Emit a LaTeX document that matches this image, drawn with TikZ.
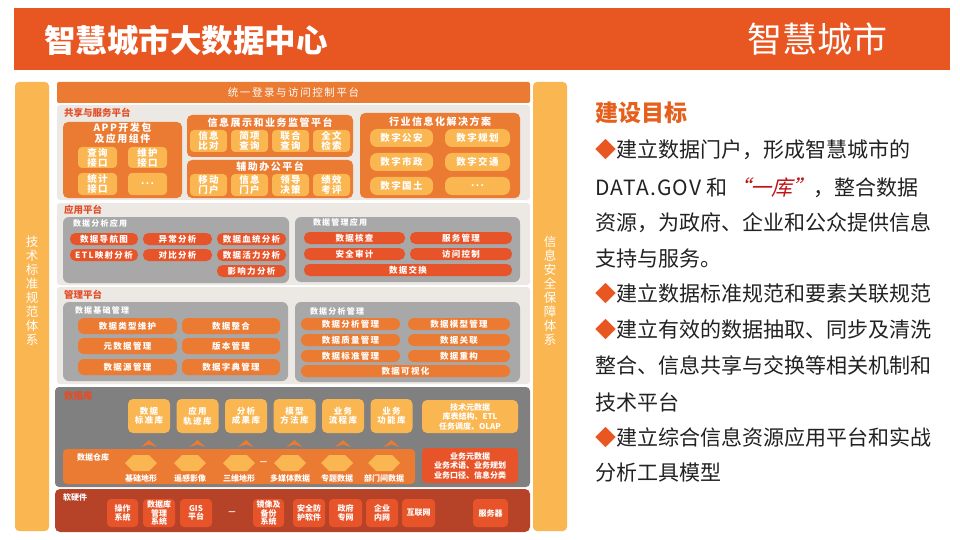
\documentclass[tikz,border=0pt]{standalone}
\usepackage{fontspec}
\setmainfont{Noto Sans CJK SC}
\newfontfamily\slfont[FakeSlant=0.25]{Noto Sans CJK SC}
\newfontfamily\spfont[LetterSpace=15]{Noto Sans CJK SC}
\newfontfamily\latfont[LetterSpace=6]{Noto Sans CJK SC}
\definecolor{hdr}{RGB}{232,86,34}
\definecolor{lor}{RGB}{250,182,80}
\definecolor{mor}{RGB}{235,122,50}
\definecolor{ror}{RGB}{232,84,42}
\definecolor{secc}{RGB}{236,233,229}
\definecolor{gboxc}{RGB}{168,168,168}
\definecolor{dgray}{RGB}{128,128,128}
\definecolor{dredc}{RGB}{182,66,40}
\definecolor{labc}{RGB}{226,78,40}
\definecolor{txtc}{RGB}{34,34,34}
\definecolor{qred}{RGB}{190,20,20}
\definecolor{goalc}{RGB}{229,96,28}
\newcommand\rb[7]{\node[#1, minimum width={(#5)-(#3)}, minimum height={(#6)-(#4)}] (#2) at ({((#3)+(#5))/2},{((#4)+(#6))/2}) {#7};}
\newcommand\dia{{\color{hdr}◆}}
\tikzset{
  zb/.style={inner sep=0pt, outer sep=0pt},
  sect/.style={zb, fill=secc, rounded corners=3pt},
  vbar/.style={zb, fill=lor, rounded corners=4pt},
  vtxt/.style={zb, text=white, align=center, font=\fontsize{12.5}{14}\selectfont},
  topbar/.style={zb, fill=mor, rounded corners=2pt, text=white, font=\spfont\fontsize{10.5}{11}\selectfont},
  slab/.style={zb, anchor=west, text=labc, font=\bfseries\fontsize{9.5}{10}\selectfont},
  obox/.style={zb, fill=mor, rounded corners=5pt},
  otitle/.style={zb, text=white, align=center, font=\spfont\bfseries\fontsize{10}{10.5}\selectfont},
  lbtn/.style={zb, fill=lor, rounded corners=4pt, text=white, align=center, font=\spfont\bfseries\fontsize{9.5}{10}\selectfont},
  lpill/.style={zb, fill=lor, rounded corners=7pt, text=white, align=center, font=\spfont\bfseries\fontsize{9.5}{10}\selectfont},
  gbx/.style={zb, fill=gboxc, rounded corners=6pt},
  gtitle/.style={zb, anchor=west, text=white, font=\spfont\bfseries\fontsize{8}{8}\selectfont},
  rpill/.style={zb, fill=ror, rounded corners=5.5pt, text=white, align=center, font=\spfont\bfseries\fontsize{8.5}{9}\selectfont},
  opill/.style={zb, fill=mor, rounded corners=6pt, text=white, align=center, font=\spfont\bfseries\fontsize{8.5}{9}\selectfont},
  dsec/.style={zb, fill=dgray, rounded corners=4pt},
  lbox/.style={zb, fill=lor, rounded corners=5pt, text=white, align=center, font=\spfont\bfseries\fontsize{8.5}{9.5}\selectfont},
  wband/.style={zb, fill=mor, rounded corners=4pt},
  wlab/.style={zb, anchor=west, text=white, font=\bfseries\fontsize{8}{8}\selectfont},
  hlab/.style={zb, text=white, font=\bfseries\fontsize{8}{8}\selectfont},
  rbox/.style={zb, fill=ror, rounded corners=4pt, text=white, align=center, font=\bfseries\fontsize{8}{9.5}\selectfont},
  hsec/.style={zb, fill=dredc, rounded corners=5pt},
  hbtn/.style={zb, fill=ror, rounded corners=4pt, text=white, align=center, font=\bfseries\fontsize{8}{8.5}\selectfont},
  rt/.style={zb, anchor=base west, text=txtc, font=\fontsize{21}{21}\selectfont},
}
\begin{document}
\begin{tikzpicture}[x=1pt,y=-1pt]
\useasboundingbox (0,0) rectangle (960,540);
\fill[white] (0,0) rectangle (960,540);
% header
\rb{zb, fill=hdr}{hdrbar}{14}{8}{950}{70}{}
\node[zb, anchor=west, text=white, font=\bfseries\fontsize{31.5}{31.5}\selectfont] (title) at (44,40) {智慧城市大数据中心};
\node[zb, text=white, font=\fontsize{35}{35}\selectfont] (brand) at (817,39) {智慧城市};
% side bars
\rb{vbar}{lbar}{15}{82}{49}{531}{}
\node[vtxt] (lbart) at (32,291) {技\\术\\标\\准\\规\\范\\体\\系};
\rb{vbar}{rbar}{533}{82}{567}{531}{}
\node[vtxt] (rbart) at (550,291) {信\\息\\安\\全\\保\\障\\体\\系};
% top bar
\rb{topbar}{sso}{57}{82}{530}{103}{统一登录与访问控制平台}
% section 1
\rb{sect}{s1}{57}{105}{530}{200}{}
\node[slab] (s1l) at (64,113) {共享与服务平台};
\rb{obox}{app}{63}{122}{182}{198}{}
\node[otitle] (appt) at (122.5,133) {APP开发包\\及应用组件};
\rb{lbtn}{q1}{78}{147}{117}{168}{查询\\接口}
\rb{lbtn}{q2}{128}{147}{167}{168}{维护\\接口}
\rb{lbtn}{q3}{78}{173}{117}{195}{统计\\接口}
\rb{lbtn}{q4}{128}{173}{167}{195}{...}
\rb{obox}{info}{187}{115}{353}{157}{}
\node[otitle] (infot) at (270,123) {信息展示和业务监管平台};
\rb{lbtn}{i1}{190}{130}{227}{152}{信息\\比对}
\rb{lbtn}{i2}{231}{130}{268}{152}{简项\\查询}
\rb{lbtn}{i3}{272}{130}{309}{152}{联合\\查询}
\rb{lbtn}{i4}{313}{130}{350}{152}{全文\\检索}
\rb{obox}{aux}{187}{160}{353}{198}{}
\node[otitle] (auxt) at (270,166.5) {辅助办公平台};
\rb{lbtn}{a1}{190}{174}{227}{196}{移动\\门户}
\rb{lbtn}{a2}{231}{174}{268}{196}{信息\\门户}
\rb{lbtn}{a3}{272}{174}{309}{196}{领导\\决策}
\rb{lbtn}{a4}{313}{174}{350}{196}{绩效\\考评}
\rb{obox}{ind}{360}{113}{520}{198}{}
\node[otitle] (indt) at (440,122) {行业信息化解决方案};
\rb{lpill}{d1}{370}{129}{433}{147}{数字公安}
\rb{lpill}{d2}{445}{129}{510}{147}{数字规划}
\rb{lpill}{d3}{370}{153}{433}{171}{数字市政}
\rb{lpill}{d4}{445}{153}{510}{171}{数字交通}
\rb{lpill}{d5}{370}{177}{433}{195}{数字国土}
\rb{lpill}{d6}{445}{177}{510}{195}{...}
% section 2
\rb{sect}{s2}{57}{203}{530}{285}{}
\node[slab] (s2l) at (64,210) {应用平台};
\rb{gbx}{daa}{63}{217}{289}{283}{}
\node[gtitle] (daat) at (73,223) {数据分析应用};
\rb{rpill}{p1}{70}{233}{138}{245}{数据导航图}
\rb{rpill}{p2}{143}{233}{212}{245}{异常分析}
\rb{rpill}{p3}{217}{233}{286}{245}{数据血统分析}
\rb{rpill}{p4}{70}{249}{138}{261}{ETL映射分析}
\rb{rpill}{p5}{143}{249}{212}{261}{对比分析}
\rb{rpill}{p6}{217}{249}{286}{261}{数据活力分析}
\rb{rpill}{p7}{217}{265}{286}{277}{影响力分析}
\rb{gbx}{dma}{295}{217}{520}{282}{}
\node[gtitle] (dmat) at (313,222) {数据管理应用};
\rb{rpill}{m1}{304}{232}{405}{244}{数据核查}
\rb{rpill}{m2}{410}{232}{512}{244}{服务管理}
\rb{rpill}{m3}{304}{248}{405}{260}{安全审计}
\rb{rpill}{m4}{410}{248}{512}{260}{访问控制}
\rb{rpill}{m5}{304}{264}{512}{276}{数据交换}
% section 3
\rb{sect}{s3}{57}{287}{530}{384}{}
\node[slab] (s3l) at (64,295) {管理平台};
\rb{gbx}{dbm}{63}{302}{288}{381}{}
\node[gtitle] (dbmt) at (75,310) {数据基础管理};
\rb{opill}{b1}{78}{318}{177}{334}{数据类型维护}
\rb{opill}{b2}{182}{318}{280}{334}{数据整合}
\rb{opill}{b3}{78}{338}{177}{354}{元数据管理}
\rb{opill}{b4}{182}{338}{280}{354}{版本管理}
\rb{opill}{b5}{78}{359}{177}{375}{数据源管理}
\rb{opill}{b6}{182}{359}{280}{375}{数据字典管理}
\rb{gbx}{dam}{295}{302}{520}{382}{}
\node[gtitle] (damt) at (310,311) {数据分析管理};
\rb{opill}{c1}{301}{318}{400}{330}{数据分析管理}
\rb{opill}{c2}{408}{318}{510}{330}{数据模型管理}
\rb{opill}{c3}{301}{334}{400}{346}{数据质量管理}
\rb{opill}{c4}{408}{334}{510}{346}{数据关联}
\rb{opill}{c5}{301}{350}{400}{362}{数据标准管理}
\rb{opill}{c6}{408}{350}{510}{362}{数据重构}
\rb{opill}{c7}{301}{365}{510}{377}{数据可视化}
% section 4
\rb{dsec}{s4}{55}{387}{530}{487}{}
\node[slab] (s4l) at (64,396) {数据库};
\rb{lbox}{k1}{128}{399}{170}{433}{数据\\标准库}
\rb{lbox}{k2}{176.5}{399}{218.5}{433}{应用\\轨迹库}
\rb{lbox}{k3}{225}{399}{267}{433}{分析\\成果库}
\rb{lbox}{k4}{273.5}{399}{315.5}{433}{模型\\方法库}
\rb{lbox}{k5}{322}{399}{364}{433}{业务\\流程库}
\rb{lbox}{k6}{370.5}{399}{412.5}{433}{业务\\功能库}
\rb{lbox, font=\bfseries\fontsize{8}{9.5}\selectfont}{k7}{422}{400}{518}{433}{技术元数据\\库表结构、ETL\\任务调度、OLAP}
\foreach \cx in {149,197.5,246,294.5,343,391.5}
  \fill[mor] (\cx-8,447) -- (\cx,440) -- (\cx+8,447) -- (\cx,444.5) -- cycle;
\rb{wband}{wh}{63}{449}{415}{484}{}
\node[wlab] (whl) at (77,457) {数据仓库};
\foreach \hx in {141,190,239,290,337,384}
  \fill[lor] (\hx-16,463) -- (\hx-8,455) -- (\hx+8,455) -- (\hx+16,463) -- (\hx+8,471) -- (\hx-8,471) -- cycle;
\node[hlab] (h1) at (141,478.5) {基础地形};
\node[hlab] (h2) at (190,478.5) {遥感影像};
\node[hlab] (h3) at (239,478.5) {三维地形};
\node[hlab] (h4) at (290,478.5) {多媒体数据};
\node[hlab] (h5) at (337,478.5) {专题数据};
\node[hlab] (h6) at (384,478.5) {部门间数据};
\node[hlab] (hdash) at (263.5,463) {—};
\rb{rbox}{biz}{422}{448}{518}{483}{业务元数据\\业务术语、业务规划\\业务口径、信息分类}
% section 5
\rb{hsec}{s5}{55}{489}{530}{532}{}
\node[wlab] (s5l) at (63,497) {软硬件};
\rb{hbtn}{w1}{107}{499}{138}{527}{操作\\系统}
\rb{hbtn}{w2}{143}{499}{175}{527}{数据库\\管理\\系统}
\rb{hbtn}{w3}{180}{499}{212}{527}{GIS\\平台}
\node[hlab] (wdash) at (232,513) {—};
\rb{hbtn}{w4}{253}{499}{284}{527}{镜像及\\备份\\系统}
\rb{hbtn}{w5}{293}{499}{325}{527}{安全防\\护软件}
\rb{hbtn}{w6}{329}{499}{362}{527}{政府\\专网}
\rb{hbtn}{w7}{366}{499}{398}{527}{企业\\内网}
\rb{hbtn}{w8}{402}{499}{435}{527}{互联网}
\rb{hbtn}{w9}{473}{499}{508}{527}{服务器}
% right panel
\node[zb, anchor=west, text=goalc, font=\bfseries\fontsize{23}{23}\selectfont] (goal) at (595,113) {建设目标};
\node[rt] (l1) at (595,158) {\dia 建立数据门户，形成智慧城市的};
\node[rt] (l2) at (595,195) {{\latfont DATA.GOV} 和\hspace{0.1em}{\slfont\color{qred}“一库”}，整合数据};
\node[rt] (l3) at (595,230) {资源，为政府、企业和公众提供信息};
\node[rt] (l4) at (595,266) {支持与服务。};
\node[rt] (l5) at (595,301) {\dia 建立数据标准规范和要素关联规范};
\node[rt] (l6) at (595,337) {\dia 建立有效的数据抽取、同步及清洗};
\node[rt] (l7) at (595,373) {整合、信息共享与交换等相关机制和};
\node[rt] (l8) at (595,410) {技术平台};
\node[rt] (l9) at (595,445) {\dia 建立综合信息资源应用平台和实战};
\node[rt] (l10) at (595,480) {分析工具模型};
\end{tikzpicture}
\end{document}
